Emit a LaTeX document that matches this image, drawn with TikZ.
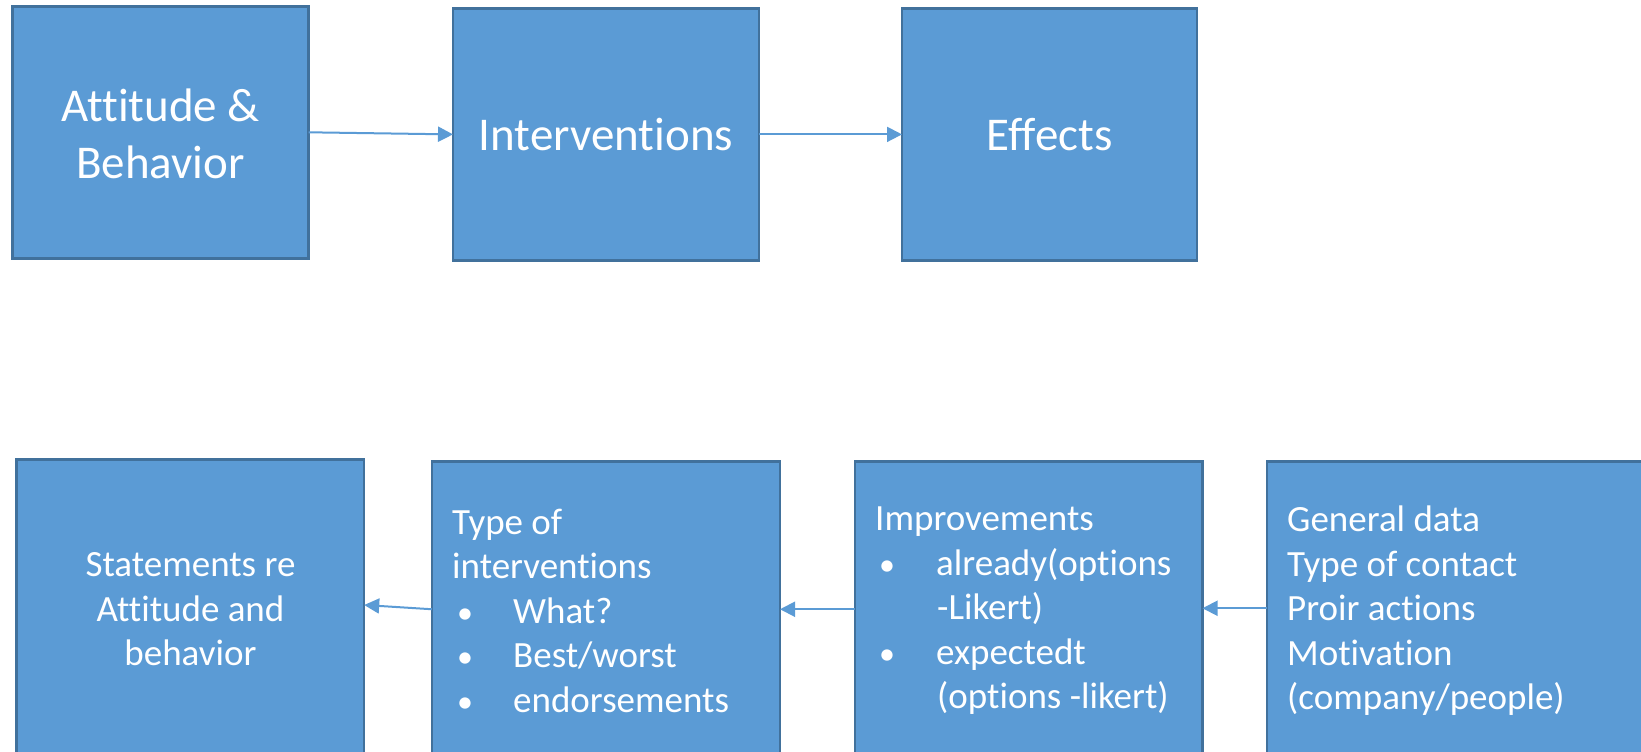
\documentclass[tikz,border=0pt]{standalone}
\usepackage{fontspec}
\setmainfont[Ligatures={NoCommon,NoRare,NoContextual},RawFeature={-liga;-clig;-dlig;-calt}]{Carlito}
\usetikzlibrary{arrows.meta}
\definecolor{boxfill}{HTML}{5B9BD5}
\definecolor{boxline}{HTML}{41719C}
\newcommand{\itembul}[2][5pt]{\makebox[61pt][l]{\hspace*{#1}{\fontsize{32}{32}\selectfont •}}#2}
\begin{document}
\begin{tikzpicture}[x=1pt,y=-1pt,
  box/.style={draw=boxline, line width=2.5pt, fill=boxfill, anchor=north west, inner sep=0pt, outer sep=0pt},
  bigtxt/.style={text=white, font=\fontsize{47}{57}\selectfont, align=center, inner sep=0pt},
  smalltxt/.style={text=white, font=\fontsize{37}{44.5}\selectfont, inner sep=0pt},
  arr/.style={draw=boxfill, line width=2pt, -{Triangle[length=15pt,width=15pt]}}]
\useasboundingbox (0,0) rectangle (1641,752);
\clip (0,0) rectangle (1641,752);
% top row
\node[box, minimum width=296, minimum height=252] (b1) at (12.6,6.3) {};
\node[box, minimum width=306, minimum height=252] (b2) at (453,8.4) {};
\node[box, minimum width=295, minimum height=252] (b3) at (902,8.4) {};
\node[bigtxt] (t1) at ([yshift=-1.5pt]b1.center) {Attitude \&\\Behavior};
\node[bigtxt] (t2) at (b2.center) {Interventions};
\node[bigtxt] (t3) at (b3.center) {Effects};
\draw[arr] (b1.east) -- (b2.west);
\draw[arr] (b2.east) -- (b3.west);
% bottom row
\node[box, minimum width=347.5, minimum height=300] (b4) at (16.7,459.5) {};
\node[box, minimum width=348, minimum height=298.5] (b5) at (432,461.5) {};
\node[box, minimum width=347.5, minimum height=298.5] (b6) at (855,461.5) {};
\node[box, minimum width=400, minimum height=298.5] (b7) at (1267,461.5) {};
\node[smalltxt, align=center] (t4) at (b4.center) {Statements re\\Attitude and\\behavior};
\node[smalltxt, align=left, anchor=west] (t5) at ([xshift=20pt]b5.west)
  {Type of\\interventions\\\itembul{What?}\\\itembul{Best/worst}\\\itembul{endorsements}};
\node[smalltxt, align=left, anchor=west] (t6) at ([xshift=20pt]b6.west)
  {Improvements\\\itembul[4pt]{already(options}\\\hspace*{62pt}-Likert)\\\itembul[4pt]{expectedt}\\\hspace*{62pt}(options -likert)};
\node[smalltxt, align=left, anchor=west] (t7) at ([xshift=20pt]b7.west)
  {General data\\Type of contact\\Proir actions\\Motivation\\(company/people)};
\draw[arr] ([yshift=1.5pt]b5.west) -- ([yshift=4.5pt]b4.east);
\draw[arr] ([yshift=1.5pt]b6.west) -- ([yshift=1.5pt]b5.east);
\draw[arr] ([yshift=2.5pt]b7.west) -- ([yshift=2.5pt]b6.east);
\end{tikzpicture}
\end{document}
